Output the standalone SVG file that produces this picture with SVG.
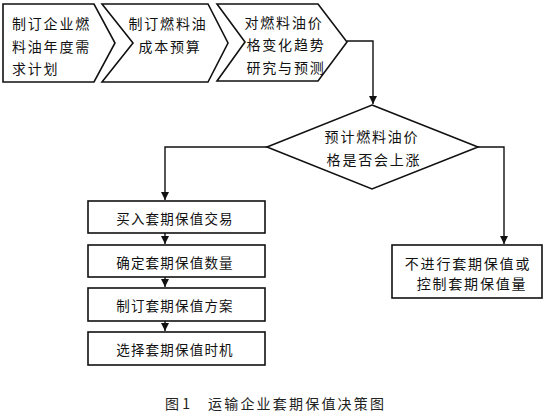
<svg xmlns="http://www.w3.org/2000/svg" width="545" height="414" viewBox="0 0 545 414">
<style>
.shp{fill:#fff;stroke:#111;stroke-width:1.6;stroke-linejoin:miter}
.ln{fill:none;stroke:#111;stroke-width:1.4}
text{font-family:"Noto Sans CJK SC","Noto Sans",sans-serif;fill:#111;dominant-baseline:central}
.t{font-size:14px;letter-spacing:1.8px}
.c{text-anchor:middle}
.b{font-size:13.5px;letter-spacing:1.2px;text-anchor:middle}
.cap{font-size:14px;fill:#222}
</style>
<defs>
<marker id="ah" markerWidth="9" markerHeight="8" refX="8" refY="4" orient="auto" markerUnits="userSpaceOnUse">
<path d="M0,0 L8,4 L0,8 Z" fill="#111"/>
</marker>
</defs>
<rect width="545" height="414" fill="#fff"/>
<g id="step1">
<path class="shp" d="M3,4 H94 L115,43 L94,82 H3 Z"/>
<text class="t" x="12" y="23">制订企业燃</text>
<text class="t" x="12" y="46">料油年度需</text>
<text class="t" x="12" y="68">求计划</text>
</g>
<g id="step2">
<path class="shp" d="M102,4 H208 L228,43 L208,82 H102 L133,43 Z"/>
<text class="t c" x="168" y="23">制订燃料油</text>
<text class="t c" x="170" y="46">成本预算</text>
</g>
<g id="step3">
<path class="shp" d="M217,4 H318 L347,42 L318,81 H217 L245,42 Z"/>
<text class="t c" x="284" y="22">对燃料油价</text>
<text class="t c" x="286" y="44">格变化趋势</text>
<text class="t c" x="286" y="67">研究与预测</text>
</g>
<g id="decision">
<path class="shp" d="M372,105 L478,147 L372,189 L267,147 Z"/>
<text class="t c" x="372" y="136">预计燃料油价</text>
<text class="t c" x="374" y="159">格是否会上涨</text>
</g>
<g id="buy">
<rect class="shp" x="88" y="201" width="177" height="32"/>
<text class="b" x="175" y="218">买入套期保值交易</text>
</g>
<g id="quantity">
<rect class="shp" x="88" y="245" width="177" height="32"/>
<text class="b" x="175" y="262">确定套期保值数量</text>
</g>
<g id="plan">
<rect class="shp" x="88" y="288" width="177" height="33"/>
<text class="b" x="175" y="305">制订套期保值方案</text>
</g>
<g id="timing">
<rect class="shp" x="88" y="332" width="177" height="33"/>
<text class="b" x="175" y="349">选择套期保值时机</text>
</g>
<g id="nohedge">
<rect class="shp" x="392" y="245" width="150" height="53"/>
<text class="t c" x="468" y="263">不进行套期保值或</text>
<text class="t c" x="472" y="283">控制套期保值量</text>
</g>
<g id="connectors">
<path class="ln" d="M347,41 H373 V104" marker-end="url(#ah)"/>
<path class="ln" d="M267,147 H165 V200" marker-end="url(#ah)"/>
<path class="ln" d="M478,147 H504 V244" marker-end="url(#ah)"/>
<path class="ln" d="M165,233 V244" marker-end="url(#ah)"/>
<path class="ln" d="M165,277 V287" marker-end="url(#ah)"/>
<path class="ln" d="M165,321 V331" marker-end="url(#ah)"/>
</g>
<g id="caption">
<text class="cap" x="165" y="403">图 1</text>
<text class="cap" x="208" y="403" style="letter-spacing:2.2px">运输企业套期保值决策图</text>
</g>
</svg>
